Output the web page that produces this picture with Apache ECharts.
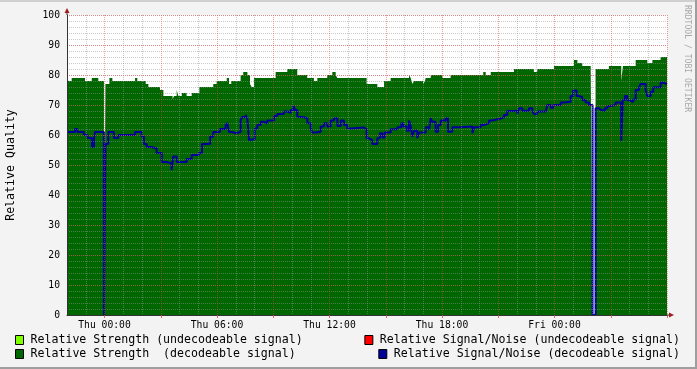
<!DOCTYPE html>
<html><head><meta charset="utf-8">
<script src="https://cdn.jsdelivr.net/npm/echarts@6/dist/echarts.min.js"></script>
<style>html,body{margin:0;padding:0;background:#F3F3F3;}#c{width:697px;height:369px;}</style>
</head><body><div id="c"></div>
<script>
// Hourly tick labels (Wed 22:00 .. Fri 06:00)
const hourLabels = ['Wed 22:00','Wed 23:00',
  'Thu 00:00','Thu 01:00','Thu 02:00','Thu 03:00','Thu 04:00','Thu 05:00','Thu 06:00','Thu 07:00',
  'Thu 08:00','Thu 09:00','Thu 10:00','Thu 11:00','Thu 12:00','Thu 13:00','Thu 14:00','Thu 15:00',
  'Thu 16:00','Thu 17:00','Thu 18:00','Thu 19:00','Thu 20:00','Thu 21:00','Thu 22:00','Thu 23:00',
  'Fri 00:00','Fri 01:00','Fri 02:00','Fri 03:00','Fri 04:00','Fri 05:00','Fri 06:00'];

// Relative strength (decodeable): step start times (hours since Wed 22:00) and values
const strengthHours = [0,0.07,0.25,0.96,1.32,1.67,1.97,2.05,2.26,2.42,
  3.63,3.75,4.20,4.34,4.96,5.14,5.63,5.71,5.85,5.94,
  6.12,6.38,6.65,7.06,7.80,7.98,8.52,8.64,8.76,9.26,
  9.40,9.62,9.76,9.85,9.97,11.13,11.75,12.28,12.81,13.17,
  13.35,13.88,14.15,14.33,14.42,15.98,16.55,16.91,17.26,18.24,
  18.33,18.42,18.51,18.99,19.09,19.13,19.40,20.02,20.46,22.20,
  22.33,22.60,23.84,24.90,25.08,25.97,27.04,27.22,27.48,27.93,
  28.03,28.19,28.90,29.56,29.65,30.33,30.95,31.22,31.66,32];
const strengthValues = [79,78,79,78,79,78,0,77,79,78,
  79,78,77,76,75,73,72,73,75,73,
  74,73,74,76,77,78,79,77,78,80,
  81,80,77,76,79,81,82,80,79,78,
  79,80,81,80,79,77,76,78,79,80,
  79,77,78,77,78,79,80,79,80,81,
  80,81,82,81,82,83,85,84,83,82,
  0,82,83,78,83,85,84,85,86,86];

// Relative signal/noise (decodeable)
const snrHours = [0,0.43,0.55,0.90,1.10,1.33,1.44,1.50,1.97,2.05,
  2.20,2.50,2.74,3.63,3.98,4.10,4.25,4.50,4.78,5.05,
  5.31,5.58,5.67,5.85,6.38,6.65,7.04,7.20,7.63,7.80,
  8.16,8.46,8.55,8.64,8.82,9.00,9.08,9.26,9.35,9.53,
  9.62,9.71,9.80,10.01,10.15,10.33,10.51,10.68,11.04,11.22,
  11.57,11.75,11.93,12.07,12.16,12.28,12.37,12.64,12.82,13.00,
  13.08,13.26,13.53,13.71,13.88,14.06,14.24,14.42,14.60,14.77,
  14.95,15.13,15.84,15.98,16.11,16.28,16.55,16.69,16.82,16.94,
  17.26,17.62,17.83,17.94,18.12,18.24,18.33,18.42,18.51,18.68,
  18.77,19.13,19.31,19.40,19.48,19.66,19.79,19.93,20.20,20.32,
  20.55,21.00,21.62,21.71,22.06,22.24,22.51,22.68,23.04,23.31,
  23.48,24.02,24.11,24.28,24.64,24.82,24.91,25.08,25.53,25.62,
  25.80,25.94,26.33,26.51,26.86,27.00,27.18,27.31,27.48,27.66,
  27.84,28.03,28.19,28.37,28.50,28.68,28.82,28.99,29.26,29.56,
  29.64,29.76,29.88,29.97,30.20,30.33,30.51,30.60,30.86,30.95,
  31.13,31.27,31.66,31.80,32];
const snrValues = [61,62,61,60,59,56,59,61,0,57,
  61,59,60,61,59.5,57,56,55.5,54,51,
  50.6,48.3,52.8,51,52,53.3,54,57,59.4,61,
  62,63.3,64,61,60.6,60,61,65,66,66.7,
  65.2,58.3,58.6,62.2,63.3,64.4,63.9,64.8,66.3,67,
  67.8,67.4,68.3,69.8,68.3,66.1,65.9,65.6,63.9,62.2,
  60.8,61.1,62.8,63.9,62.8,64.8,65.6,63,64.8,63.3,
  62.2,62.5,61.9,58.9,58.3,57,58.9,60.6,59.2,60.8,
  61.9,62.6,63.9,62.8,61.4,64.8,62.8,59.4,61.4,58.9,
  60.8,62.6,61.7,65.6,64.4,61.1,63.3,64.8,65.6,61.1,
  62.6,62.8,60.6,62.6,63.3,63.9,64.8,65.3,65.9,66.7,
  68,67,68.9,68.1,68.9,67.8,67,67.8,68.3,70,
  69.1,70,70.8,71.1,73,74.8,73,72.6,71.7,70.8,
  70,0,68.9,68.3,68.1,68.9,69.7,70,70.8,58.1,
  71.7,73,71.7,71.1,71.9,75,75.9,77,75,73,
  74.4,75.9,77.4,77,77];

const seriesNames = ['Relative Strength (undecodeable signal)','Relative Strength  (decodeable signal)',
  'Relative Signal/Noise (undecodeable signal)','Relative Signal/Noise (decodeable signal)'];
const seriesColors = ['#80FF00','#006600','#FF0000','#000099'];

const FONT = 'DejaVu Sans Mono';
const minorGrid = 'rgba(150,150,150,0.5)';
const majorGrid = 'rgba(225,70,70,0.5)';

const chart = echarts.init(document.getElementById('c'), null, {renderer:'canvas'});
const pairs = (hs, vs) => hs.map((h, i) => [h, vs[i]]);

const legendBase = {
  orient:'horizontal', icon:'rect', itemWidth:8, itemHeight:9, padding:0, selectedMode:false,
  itemStyle:{borderColor:'#000', borderWidth:1},
  textStyle:{fontFamily:FONT, fontSize:11.6, color:'#000', padding:[0,0,0,2]}
};

chart.setOption({
  animation:false,
  backgroundColor:'#F3F3F3',
  grid:{left:67, top:15, width:600, height:300, containLabel:false, outerBoundsMode:'none',
    show:true, backgroundColor:'#FFFFFF', borderWidth:0},
  legend:[
    Object.assign({}, legendBase, {data:[seriesNames[0]], left:15, top:334}),
    Object.assign({}, legendBase, {data:[seriesNames[1]], left:15, top:348}),
    Object.assign({}, legendBase, {data:[seriesNames[2]], right:17, top:334}),
    Object.assign({}, legendBase, {data:[seriesNames[3]], right:17, top:348})
  ],
  xAxis:[
    {type:'value', min:0, max:32, show:false},
    {type:'category', data:hourLabels, boundaryGap:false, position:'bottom', z:3,
      axisLine:{show:false}, axisTick:{show:false}, axisLabel:{show:false},
      splitLine:{show:true, interval:(i)=> i % 3 !== 2, lineStyle:{color:minorGrid, width:1, type:[1,1]}}},
    {type:'category', data:hourLabels, boundaryGap:false, position:'bottom', z:4,
      axisLine:{show:true, lineStyle:{color:'#333', width:1}},
      axisTick:{show:true, interval:(i)=> i % 3 === 2, length:3, lineStyle:{color:'rgba(225,70,70,0.8)'}},
      axisLabel:{interval:(i)=> i % 6 === 2 && i < hourLabels.length - 1, margin:5,
        fontFamily:FONT, fontSize:9.7, color:'#000'},
      splitLine:{show:true, interval:(i)=> i % 3 === 2, lineStyle:{color:majorGrid, width:1, type:[1,1]}}}
  ],
  yAxis:[
    {type:'value', min:0, max:100, interval:10, position:'left', z:4,
      axisLine:{show:true, lineStyle:{color:'#333', width:1}},
      axisTick:{show:false},
      axisLabel:{margin:7, fontFamily:FONT, fontSize:9.7, color:'#000'},
      splitLine:{show:true, lineStyle:{color:majorGrid, width:1, type:[1,1]}},
      name:'Relative Quality', nameLocation:'middle', nameGap:50, nameRotate:90,
      nameTextStyle:{fontFamily:FONT, fontSize:11.6, color:'#000'}},
    {type:'value', min:0, max:100, interval:2, position:'left', z:3,
      axisLine:{show:false}, axisTick:{show:false}, axisLabel:{show:false},
      splitLine:{show:true, lineStyle:{color:minorGrid, width:1, type:[1,1]}}}
  ],
  series:[
    {name:seriesNames[0], type:'line', data:[], color:seriesColors[0], xAxisIndex:0, yAxisIndex:0},
    {name:seriesNames[1], type:'line', step:'end', xAxisIndex:0, yAxisIndex:0, z:1,
      data:pairs(strengthHours, strengthValues), showSymbol:false, color:seriesColors[1],
      lineStyle:{width:0}, areaStyle:{color:seriesColors[1], opacity:1}},
    {name:seriesNames[2], type:'line', data:[], color:seriesColors[2], xAxisIndex:0, yAxisIndex:0},
    {name:seriesNames[3], type:'line', step:'end', xAxisIndex:0, yAxisIndex:0, z:2,
      data:pairs(snrHours, snrValues), showSymbol:false, color:seriesColors[3],
      lineStyle:{width:2, color:seriesColors[3]}}
  ]
});

// decorations: arrows, frame shading, watermark
const o = chart.convertToPixel({xAxisIndex:0, yAxisIndex:0}, [0, 0]);
const e = chart.convertToPixel({xAxisIndex:0, yAxisIndex:0}, [32, 100]);
const arrowColor = '#A01E1E';
chart.setOption({graphic:[
  {type:'polygon', z:100, shape:{points:[[o[0]-2.5, e[1]-2],[o[0]+2.5, e[1]-2],[o[0], e[1]-7]]}, style:{fill:arrowColor}},
  {type:'line', z:99, shape:{x1:o[0], y1:e[1], x2:o[0], y2:e[1]-3}, style:{stroke:'#333', lineWidth:1}},
  {type:'polygon', z:100, shape:{points:[[e[0]+2, o[1]-2.5],[e[0]+2, o[1]+2.5],[e[0]+7, o[1]]]}, style:{fill:arrowColor}},
  {type:'line', z:99, shape:{x1:e[0], y1:o[1], x2:e[0]+3, y2:o[1]}, style:{stroke:'#333', lineWidth:1}},
  {type:'rect', z:100, shape:{x:0, y:0, width:697, height:2}, style:{fill:'#CFCFCF'}},
  {type:'rect', z:100, shape:{x:695, y:0, width:2, height:369}, style:{fill:'#9E9E9E'}},
  {type:'rect', z:100, shape:{x:0, y:367, width:697, height:2}, style:{fill:'#9E9E9E'}},
  {type:'text', z:100, x:687, y:5, rotation:-Math.PI/2,
    style:{text:'RRDTOOL / TOBI OETIKER', fontFamily:FONT, fontSize:8.1, fill:'#A8A8A8', align:'left', verticalAlign:'middle'}}
]});
</script></body></html>
